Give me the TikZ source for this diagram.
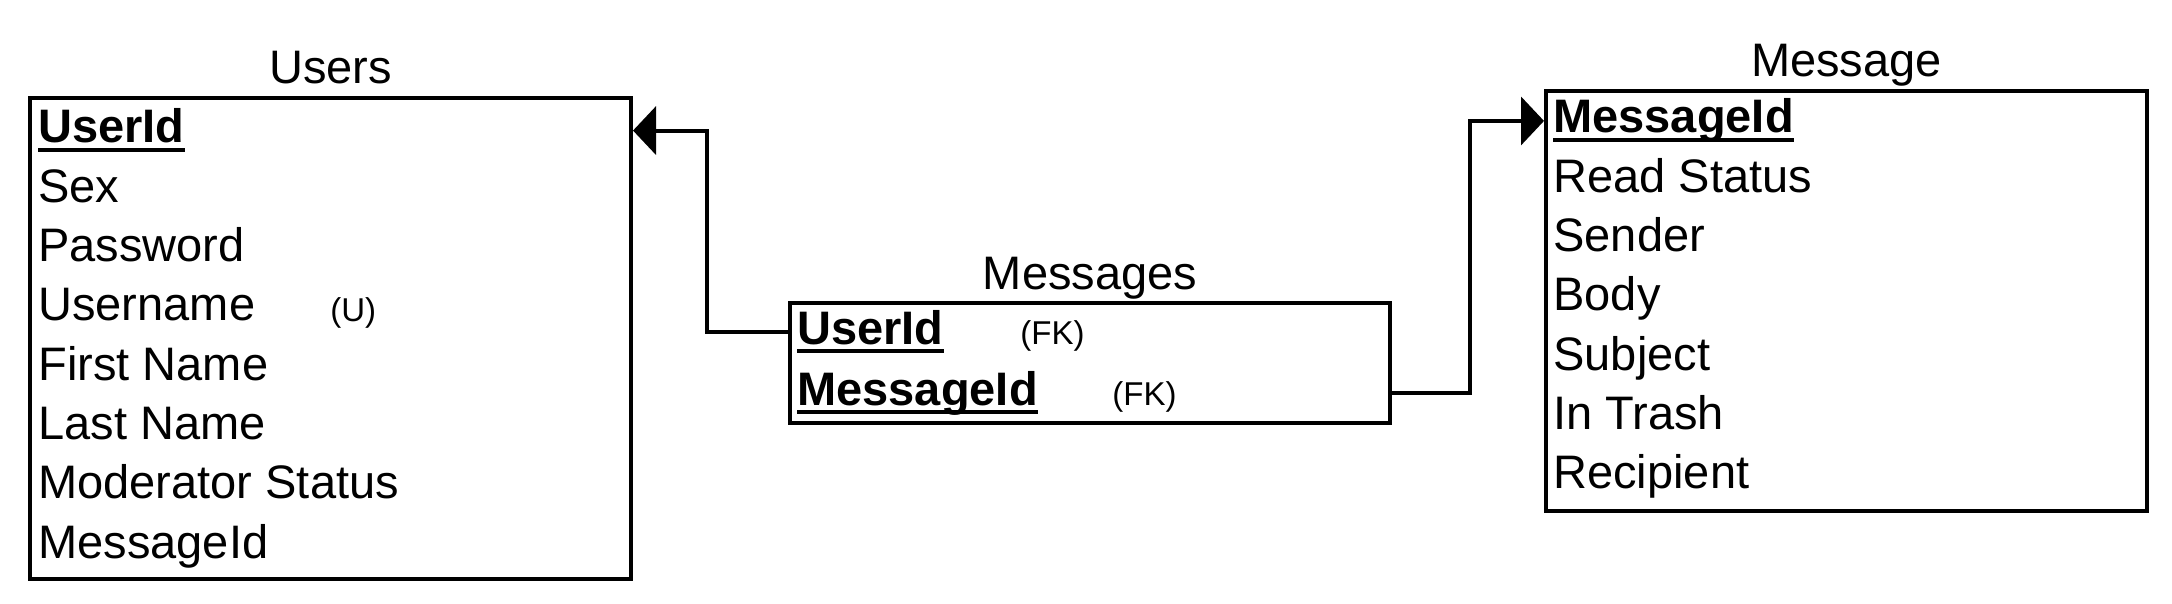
\documentclass[tikz,border=0pt]{standalone}
\usepackage{fontspec}
\setmainfont{Liberation Sans}
\usetikzlibrary{positioning, arrows.meta}

\newcommand\pkey[1]{\setbox0\hbox{\bfseries #1}\rlap{\rule[-4.6pt]{\wd0}{1.9pt}}\box0}

\tikzset{
  table/.style={draw, line width=2pt, anchor=north west, inner sep=0pt},
  title/.style={inner sep=0pt, font=\fontsize{23.5}{28}\selectfont},
  field/.style={anchor=base west, inner sep=0pt, font=\fontsize{23.5}{28}\selectfont},
  note/.style={anchor=base west, inner sep=0pt, font=\fontsize{16.5}{20}\selectfont},
  fk/.style={line width=2pt, -{Triangle[length=11.5pt, width=24pt]}}
}

\begin{document}
\begin{tikzpicture}[x=0.5pt, y=-0.5pt]
    \useasboundingbox (0,0) rectangle (2172,604);
    \node[table, minimum width=300.5pt, minimum height=240.5pt] (users) at (28,96) {};
    \node[table, minimum width=300pt, minimum height=60pt] (msgs) at (788,301) {};
    \node[table, minimum width=300.5pt, minimum height=210pt] (message) at (1544,89) {};
    \node[title, above=6pt of users, anchor=base] {Users};
    \node[title, above=6pt of msgs, anchor=base] {Messages};
    \node[title, above=6pt of message, anchor=base] {Message};

    \foreach \f [count=\i from 0] in {\pkey{UserId}, Sex, Password, Username, First Name, Last Name, Moderator Status, MessageId}
        \node[field] (u\i) at (38,{143+59.3*\i}) {\f};
    \node[note] (uq) at (330,321) {(U)};

    \node[field] (m0) at (797,344) {\pkey{UserId}};
    \node[field] (m1) at (797,405) {\pkey{MessageId}};
    \node[note] (fk0) at (1020,344) {(FK)};
    \node[note] (fk1) at (1112,405) {(FK)};

    \foreach \f [count=\i from 0] in {\pkey{MessageId}, Read Status, Sender, Body, Subject, In Trash, Recipient}
        \node[field] (k\i) at (1553,{133+59.3*\i}) {\f};

    \draw[fk] (msgs.west |- m0) -- ++(-81,0) |- (users.east |- u0);
    \draw[fk] (msgs.east |- m1) -- ++(78,0) |- (message.west |- k0);
\end{tikzpicture}
\end{document}
